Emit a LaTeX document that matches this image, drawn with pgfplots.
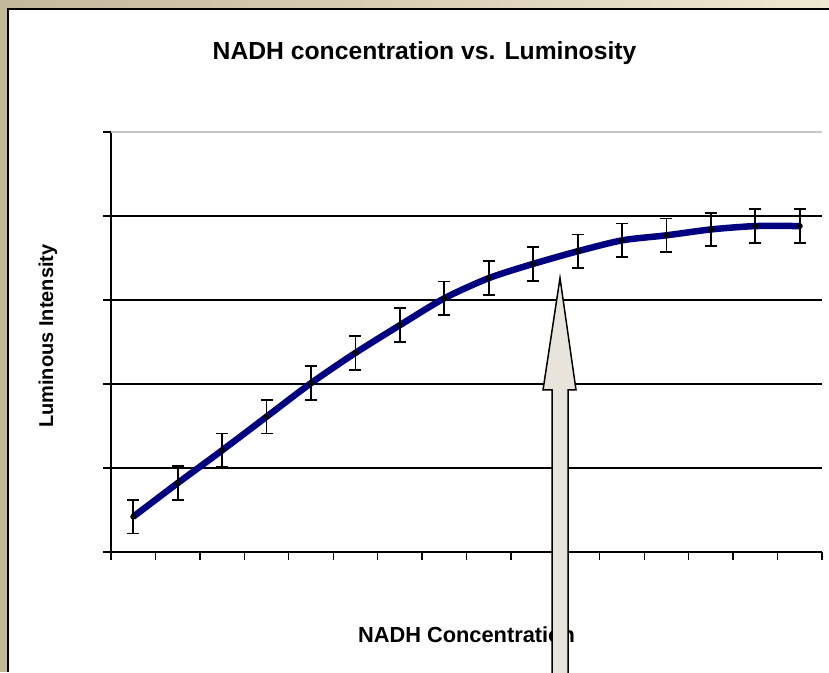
\documentclass[border=0pt]{standalone}
\usepackage{pgfplots}
\pgfplotsset{compat=1.18}
\usepackage{pgfplotstable}
\usepackage{fontspec}
\setmainfont{Liberation Sans}
\definecolor{navyline}{RGB}{0,0,128}
\definecolor{arrowfill}{RGB}{232,228,220}
\definecolor{frametan}{RGB}{196,184,156}
\definecolor{framecream}{RGB}{240,233,210}
\pgfplotstableread{
x y err
0.5 0.42 0.2
1.5 0.82 0.2
2.5 1.21 0.2
3.5 1.61 0.2
4.5 2.01 0.2
5.5 2.37 0.2
6.5 2.70 0.2
7.5 3.02 0.2
8.5 3.26 0.2
9.5 3.43 0.2
10.5 3.58 0.2
11.5 3.71 0.2
12.5 3.77 0.2
13.5 3.84 0.2
14.5 3.88 0.2
15.5 3.88 0.2
}\datatable
\begin{document}
\begin{tikzpicture}
\path[use as bounding box] (0,0) rectangle (829pt,672pt);
% frame
\shade[left color=frametan, right color=framecream] (0,662pt) rectangle (829pt,672pt);
\fill[frametan] (0,0) rectangle (8pt,662pt);
\fill[white] (8pt,0) rectangle (829pt,663pt);
\draw[black, line width=2pt] (8pt,0) -- (8pt,663pt) -- (829pt,663pt);
\begin{axis}[
  at={(111pt,120pt)}, anchor=south west,
  width=711pt, height=420pt, scale only axis,
  xmin=0, xmax=16, ymin=0, ymax=5,
  axis x line*=bottom, axis y line*=left,
  axis line style={black, line width=1.5pt, -},
  xtick={0,...,16}, ytick={0,...,4},
  extra y ticks={5}, extra y tick style={grid=none},
  xticklabels={}, yticklabels={}, extra y tick labels={},
  tick align=outside, major tick length=8pt,
  tick style={black, line width=1.3pt},
  ymajorgrids, grid style={black, line width=1.3pt},
  title={\fontsize{24.7}{28}\selectfont\bfseries NADH concentration vs. Luminosity},
  title style={at={(0.441,1)}, anchor=base, yshift=66pt},
  xlabel={\fontsize{21.8}{25}\selectfont\bfseries NADH Concentration},
  xlabel style={at={(0.5,0)}, anchor=base, yshift=-90pt},
  ylabel={\fontsize{20}{24}\selectfont\bfseries Luminous Intensity},
  ylabel style={at={(0,0.514)}, anchor=base, xshift=0pt, yshift=58pt},
  clip=false,
]
\draw[gray!45, line width=1.3pt] (axis cs:0,5) -- (axis cs:16,5);
\addplot[navyline, line width=6.5pt, smooth, tension=0.45, mark=none] table[x=x,y=y] {\datatable};
\addplot[only marks, mark=none, black, line width=1.8pt, forget plot,
  error bars/.cd, y dir=both, y explicit,
  error mark=-,
  error bar style={black, line width=1.8pt},
  error mark options={rotate=90, black, line width=1.8pt, mark size=6pt}]
  table[x=x, y=y, y error=err] {\datatable};
\end{axis}
% arrow annotation
\draw[fill=arrowfill, draw=black, line width=1.5pt, line join=miter]
  (560pt,394pt) -- (576pt,282pt) -- (568pt,282pt) -- (568pt,-2pt) -- (552pt,-2pt) -- (552pt,282pt) -- (543pt,282pt) -- cycle;
\end{tikzpicture}
\end{document}
